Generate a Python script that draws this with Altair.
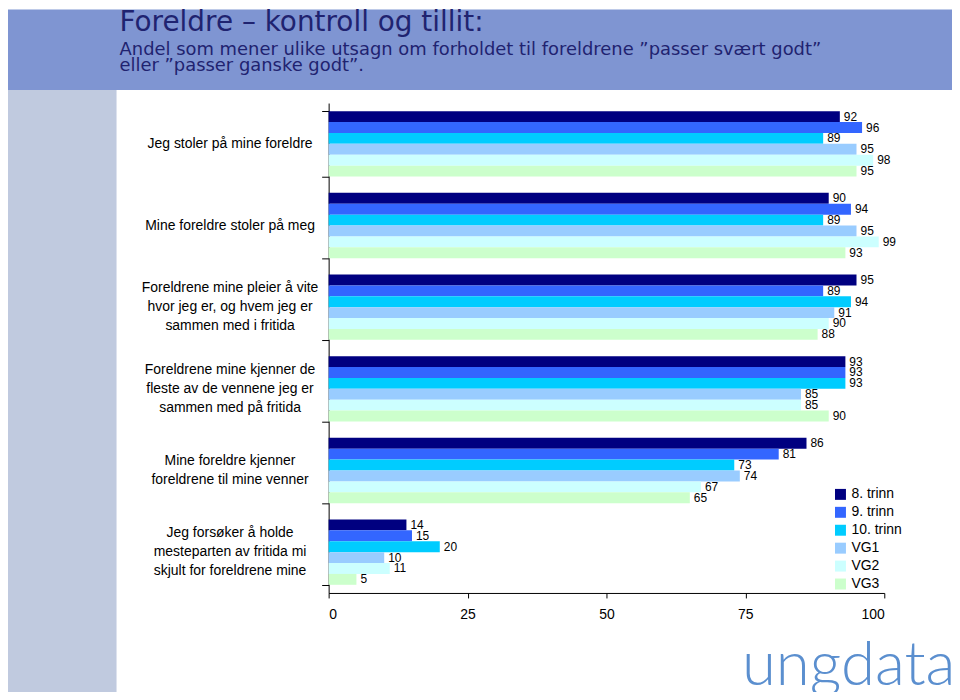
import altair as alt
import pandas as pd

categories = [
    "Jeg stoler på mine foreldre",
    "Mine foreldre stoler på meg",
    "Foreldrene mine pleier å vite hvor jeg er, og hvem jeg er sammen med i fritida",
    "Foreldrene mine kjenner de fleste av de vennene jeg er sammen med på fritida",
    "Mine foreldre kjenner foreldrene til mine venner",
    "Jeg forsøker å holde mesteparten av fritida mi skjult for foreldrene mine",
]
category_labels = [
    "Jeg stoler på mine foreldre",
    "Mine foreldre stoler på meg",
    "Foreldrene mine pleier å vite\nhvor jeg er, og hvem jeg er\nsammen med i fritida",
    "Foreldrene mine kjenner de\nfleste av de vennene jeg er\nsammen med på fritida",
    "Mine foreldre kjenner\nforeldrene til mine venner",
    "Jeg forsøker å holde\nmesteparten av fritida mi\nskjult for foreldrene mine",
]
grades = ["8. trinn", "9. trinn", "10. trinn", "VG1", "VG2", "VG3"]
colors = ["#000080", "#3366FF", "#00CCFF", "#99CCFF", "#CCFFFF", "#CCFFCC"]

trinn8 = [92, 90, 95, 93, 86, 14]
trinn9 = [96, 94, 89, 93, 81, 15]
trinn10 = [89, 89, 94, 93, 73, 20]
vg1 = [95, 95, 91, 85, 74, 10]
vg2 = [98, 99, 90, 85, 67, 11]
vg3 = [95, 93, 88, 90, 65, 5]

x_ticks = [0, 25, 50, 75, 100]

title_text = "Foreldre – kontroll og tillit:"
subtitle_lines = [
    "Andel som mener ulike utsagn om forholdet til foreldrene ”passer svært godt”",
    "eller ”passer ganske godt”.",
]
logo_text = "ungdata"

series = [trinn8, trinn9, trinn10, vg1, vg2, vg3]
rows = []
for g, vals in zip(grades, series):
    for c, v in zip(categories, vals):
        rows.append({"category": c, "grade": g, "value": v})
df = pd.DataFrame(rows)
lab_df = pd.DataFrame({"category": categories, "label": category_labels})
lab_df["nlines"] = lab_df["label"].str.count("\n") + 1
one = pd.DataFrame({"a": [0]})

LINE_H = 19
HEAD_FONT = "DejaVu Sans"
HEAD_COLOR = "#1F2370"

y_enc = alt.Y(
    "category:N",
    sort=categories,
    scale=alt.Scale(paddingInner=0.2, paddingOuter=0.1),
    axis=alt.Axis(labels=False, title=None, ticks=True, tickBand="extent",
                  tickSize=7, tickColor="black", domainColor="black"),
)
x_enc = alt.X(
    "value:Q",
    scale=alt.Scale(domain=[0, 100], nice=False),
    axis=alt.Axis(values=x_ticks, grid=False, title=None, tickSize=5,
                  tickColor="black", domainColor="black", labelFontSize=14,
                  labelPadding=10, labelColor="black", labelFont="Liberation Sans"),
)
yoff = alt.YOffset("grade:N", sort=grades, scale=alt.Scale(paddingInner=0, paddingOuter=0))

top_band = alt.Chart(one).mark_rect(color="#7F95D2").encode(
    x=alt.value(-322), x2=alt.value(640), y=alt.value(-94), y2=alt.value(-13)
)
left_strip = alt.Chart(one).mark_rect(color="#C0CADF").encode(
    x=alt.value(-322), x2=alt.value(-213), y=alt.value(-13), y2=alt.value(600)
)

bars = alt.Chart(df).mark_bar().encode(
    x=x_enc,
    y=y_enc,
    yOffset=yoff,
    color=alt.Color("grade:N", sort=grades,
                    scale=alt.Scale(domain=grades, range=colors),
                    legend=alt.Legend(title=None, orient="none", legendX=507, legendY=386,
                                      symbolType="square", symbolSize=121,
                                      symbolStrokeWidth=0, labelFontSize=14,
                                      labelFont="Liberation Sans", labelColor="black",
                                      rowPadding=4, padding=0, labelOffset=4)),
)

values_text = alt.Chart(df).mark_text(
    align="left", baseline="middle", dx=4, fontSize=12, font="Liberation Sans", color="black"
).encode(x="value:Q", y=alt.Y("category:N", sort=categories), yOffset=yoff, text="value:Q")

cat_layers = []
for n in sorted(lab_df["nlines"].unique()):
    sub = lab_df[lab_df["nlines"] == n][["category", "label"]]
    cat_layers.append(
        alt.Chart(sub).mark_text(
            align="center", baseline="middle", fontSize=14, lineHeight=LINE_H,
            lineBreak="\n", font="Liberation Sans", color="black",
            dy=-(int(n) - 1) * LINE_H / 2,
        ).encode(x=alt.value(-99), y=alt.Y("category:N", sort=categories), text="label:N")
    )

title = alt.Chart(one).mark_text(
    align="left", baseline="alphabetic", fontSize=28, font=HEAD_FONT, color=HEAD_COLOR
).encode(x=alt.value(-210), y=alt.value(-72), text=alt.value(title_text))

sub1 = alt.Chart(one).mark_text(
    align="left", baseline="alphabetic", fontSize=18, font=HEAD_FONT, color=HEAD_COLOR
).encode(x=alt.value(-210), y=alt.value(-48), text=alt.value(subtitle_lines[0]))
sub2 = alt.Chart(one).mark_text(
    align="left", baseline="alphabetic", fontSize=18, font=HEAD_FONT, color=HEAD_COLOR
).encode(x=alt.value(-210), y=alt.value(-32), text=alt.value(subtitle_lines[1]))

logo = alt.Chart(one).mark_text(
    align="left", baseline="alphabetic", fontSize=62, font="Lato", fontWeight=300,
    color="#5B8FCF"
).encode(x=alt.value(415), y=alt.value(584), text=alt.value(logo_text))

chart = alt.layer(
    top_band, left_strip, bars, values_text, *cat_layers, title, sub1, sub2, logo
).properties(
    width=558, height=492,
    autosize=alt.AutoSizeParams(type="none"),
    padding={"left": 322, "top": 94, "right": 68, "bottom": 98},
    background="white",
).configure_view(stroke=None)

chart.save("out.html", embed_options={"renderer": "svg", "actions": False})
